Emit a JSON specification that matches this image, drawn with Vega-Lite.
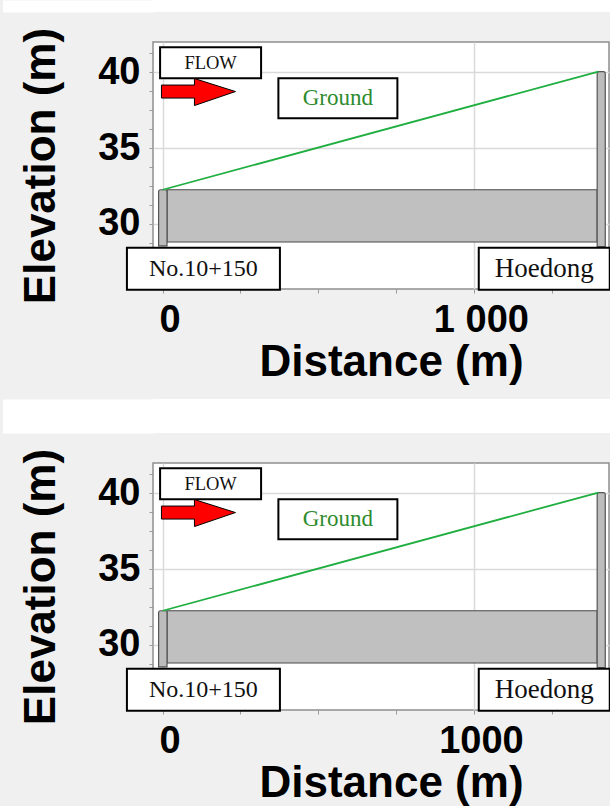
{
  "$schema": "https://vega.github.io/schema/vega-lite/v6.json",
  "background": "#f0f0f0",
  "padding": 0,
  "spacing": 13,
  "datasets": {
    "pipe": [{"x": 14, "x2": 1396, "y": 28.8, "y2": 32.25}],
    "manholes": [
      {"name": "No.10+150", "x": -13, "x2": 14, "y": 28.55, "y2": 32.25},
      {"name": "Hoedong", "x": 1396, "x2": 1422, "y": 28.5, "y2": 40.05}
    ],
    "ground": [{"x": 0, "y": 32.25}, {"x": 1400, "y": 40.05}],
    "labels": [
      {"label": "FLOW", "x": 154, "y": 40.63},
      {"label": "Ground", "x": 563, "y": 38.29},
      {"label": "No.10+150", "x": 131, "y": 27.03},
      {"label": "Hoedong", "x": 1226, "y": 27.03}
    ],
    "flow": [{"x": 115, "y": 38.73}]
  },
  "vconcat": [
    {"width": 610, "height": 12, "data": {"values": []}, "mark": "rect", "view": {"fill": "white", "stroke": null},
      "encoding": {"y": {"field": "v", "type": "quantitative", "scale": {"domain": [0, 12], "nice": false},
        "axis": {"values": [1.5, 3.5, 5.5, 7.5, 9.5, 10.5], "labels": false, "title": null, "domain": false, "grid": false, "tickRound": false, "tickSize": 150.5, "tickWidth": 3, "tickColor": "white", "tickCap": "butt"}}}},
    {
      "width": 456,
      "height": 247,
      "title": {"text": " ", "anchor": "start", "frame": "group", "dx": -152, "fontSize": 1, "offset": 0},
      "view": {"fill": "white", "stroke": "#8f8f8f", "strokeWidth": 1.5},
      "encoding": {
        "x": {"field": "x", "type": "quantitative", "scale": {"domain": [-31, 1434], "nice": false, "zero": false},
          "axis": {"title": "Distance (m)", "values": [0, 250, 500, 750, 1000, 1250], "titleX": 238,
            "labelExpr": "datum.value % 1000 === 0 ? replace(format(datum.value, ','), ',', ' ') : ''",
            "gridOpacity": {"condition": {"test": "datum.value % 1000 === 0", "value": 1}, "value": 0}}},
        "y": {"field": "y", "type": "quantitative", "scale": {"domain": [25.7, 42], "nice": false, "zero": false},
          "axis": {"title": "Elevation (m)", "values": [26.25, 27.5, 28.75, 30, 31.25, 32.5, 33.75, 35, 36.25, 37.5, 38.75, 40, 41.25],
            "labelExpr": "datum.value % 5 === 0 ? datum.label : ''",
            "gridOpacity": {"condition": {"test": "datum.value % 5 === 0", "value": 1}, "value": 0}}}
      },
      "layer": [
        {"data": {"name": "pipe"}, "mark": {"type": "rect", "fill": "#c0c0c0", "stroke": "#4a4a4a", "strokeWidth": 1.2},
          "encoding": {"x2": {"field": "x2"}, "y2": {"field": "y2"}}},
        {"data": {"name": "manholes"}, "mark": {"type": "rect", "fill": "#bcbcbc", "stroke": "#555555", "strokeWidth": 1.2, "cornerRadiusTopLeft": 2, "cornerRadiusTopRight": 2},
          "encoding": {"x2": {"field": "x2"}, "y2": {"field": "y2"}}},
        {"data": {"name": "ground"}, "mark": {"type": "line", "color": "#1fae3f", "strokeWidth": 1.8}},
        {"data": {"name": "labels"}, "mark": {"type": "point", "filled": true, "fill": "white", "stroke": "black", "strokeWidth": 2, "size": 4, "opacity": 1, "fillOpacity": 1, "strokeOpacity": 1},
          "encoding": {"shape": {"field": "label", "type": "nominal", "legend": null,
            "scale": {"domain": ["FLOW", "Ground", "No.10+150", "Hoedong"],
              "range": ["M-50.5,-15.5H50.5V15.5H-50.5Z", "M-59.5,-20H59.5V20H-59.5Z", "M-76.5,-21H76.5V21H-76.5Z", "M-65.5,-21H65.5V21H-65.5Z"]}}}},
        {"data": {"name": "flow"}, "mark": {"type": "point", "shape": "M-37,-6.5H-4V-13L37,0L-4,14V6.5H-37Z", "size": 4, "filled": true, "fill": "#ff0000", "stroke": "black", "strokeWidth": 1, "opacity": 1}},
        {"data": {"name": "labels"}, "mark": {"type": "text", "font": "Liberation Serif", "baseline": "middle", "align": "center"},
          "encoding": {"text": {"field": "label"},
            "size": {"field": "label", "type": "nominal", "legend": null, "scale": {"type": "ordinal", "domain": ["FLOW", "Ground", "No.10+150", "Hoedong"], "range": [18.5, 23, 24, 27]}},
            "color": {"field": "label", "type": "nominal", "legend": null, "scale": {"domain": ["FLOW", "Ground", "No.10+150", "Hoedong"], "range": ["#111111", "#2e8b2e", "#111111", "#111111"]}}}}
      ]
    },
    {"width": 610, "height": 34, "data": {"values": []}, "mark": "rect", "view": {"fill": "white", "stroke": null},
      "encoding": {"y": {"field": "v", "type": "quantitative", "scale": {"domain": [0, 34], "nice": false},
        "axis": {"values": [1.5, 3.5, 5.5, 7.5, 9.5, 11.5, 13.5, 15.5, 17.5, 19.5, 21.5, 23.5, 25.5, 27.5, 29.5, 31.5, 32.5], "labels": false, "title": null, "domain": false, "grid": false, "tickRound": false, "tickSize": 150.5, "tickWidth": 3, "tickColor": "white", "tickCap": "butt"}}}},
    {
      "width": 456,
      "height": 247,
      "title": {"text": " ", "anchor": "start", "frame": "group", "dx": -152, "fontSize": 1, "offset": 0},
      "view": {"fill": "white", "stroke": "#8f8f8f", "strokeWidth": 1.5},
      "encoding": {
        "x": {"field": "x", "type": "quantitative", "scale": {"domain": [-31, 1434], "nice": false, "zero": false},
          "axis": {"title": "Distance (m)", "values": [0, 250, 500, 750, 1000, 1250], "titleX": 238,
            "labelExpr": "datum.value % 1000 === 0 ? format(datum.value, 'd') : ''",
            "gridOpacity": {"condition": {"test": "datum.value % 1000 === 0", "value": 1}, "value": 0}}},
        "y": {"field": "y", "type": "quantitative", "scale": {"domain": [25.7, 42], "nice": false, "zero": false},
          "axis": {"title": "Elevation (m)", "values": [26.25, 27.5, 28.75, 30, 31.25, 32.5, 33.75, 35, 36.25, 37.5, 38.75, 40, 41.25],
            "labelExpr": "datum.value % 5 === 0 ? datum.label : ''",
            "gridOpacity": {"condition": {"test": "datum.value % 5 === 0", "value": 1}, "value": 0}}}
      },
      "layer": [
        {"data": {"name": "pipe"}, "mark": {"type": "rect", "fill": "#c0c0c0", "stroke": "#4a4a4a", "strokeWidth": 1.2},
          "encoding": {"x2": {"field": "x2"}, "y2": {"field": "y2"}}},
        {"data": {"name": "manholes"}, "mark": {"type": "rect", "fill": "#bcbcbc", "stroke": "#555555", "strokeWidth": 1.2, "cornerRadiusTopLeft": 2, "cornerRadiusTopRight": 2},
          "encoding": {"x2": {"field": "x2"}, "y2": {"field": "y2"}}},
        {"data": {"name": "ground"}, "mark": {"type": "line", "color": "#1fae3f", "strokeWidth": 1.8}},
        {"data": {"name": "labels"}, "mark": {"type": "point", "filled": true, "fill": "white", "stroke": "black", "strokeWidth": 2, "size": 4, "opacity": 1, "fillOpacity": 1, "strokeOpacity": 1},
          "encoding": {"shape": {"field": "label", "type": "nominal", "legend": null,
            "scale": {"domain": ["FLOW", "Ground", "No.10+150", "Hoedong"],
              "range": ["M-50.5,-15.5H50.5V15.5H-50.5Z", "M-59.5,-20H59.5V20H-59.5Z", "M-76.5,-21H76.5V21H-76.5Z", "M-65.5,-21H65.5V21H-65.5Z"]}}}},
        {"data": {"name": "flow"}, "mark": {"type": "point", "shape": "M-37,-6.5H-4V-13L37,0L-4,14V6.5H-37Z", "size": 4, "filled": true, "fill": "#ff0000", "stroke": "black", "strokeWidth": 1, "opacity": 1}},
        {"data": {"name": "labels"}, "mark": {"type": "text", "font": "Liberation Serif", "baseline": "middle", "align": "center"},
          "encoding": {"text": {"field": "label"},
            "size": {"field": "label", "type": "nominal", "legend": null, "scale": {"type": "ordinal", "domain": ["FLOW", "Ground", "No.10+150", "Hoedong"], "range": [18.5, 23, 24, 27]}},
            "color": {"field": "label", "type": "nominal", "legend": null, "scale": {"domain": ["FLOW", "Ground", "No.10+150", "Hoedong"], "range": ["#111111", "#2e8b2e", "#111111", "#111111"]}}}}
      ]
    }
  ],
  "config": {
    "font": "Liberation Sans",
    "view": {"stroke": null},
    "axis": {
      "labelFont": "Liberation Sans", "labelFontWeight": "bold", "labelColor": "black",
      "titleFont": "Liberation Sans", "titleFontWeight": "bold", "titleFontSize": 44, "titleColor": "black",
      "domain": false, "tickColor": "#9a9a9a", "tickSize": 4, "tickWidth": 1,
      "gridColor": "#dadada", "gridWidth": 1.5, "labelOverlap": false, "labelFlush": false
    },
    "axisX": {"labelFontSize": 38, "labelPadding": 8, "labelOffset": 7, "titlePadding": 1},
    "axisY": {"labelFontSize": 38, "labelPadding": 9, "titlePadding": 34}
  }
}
